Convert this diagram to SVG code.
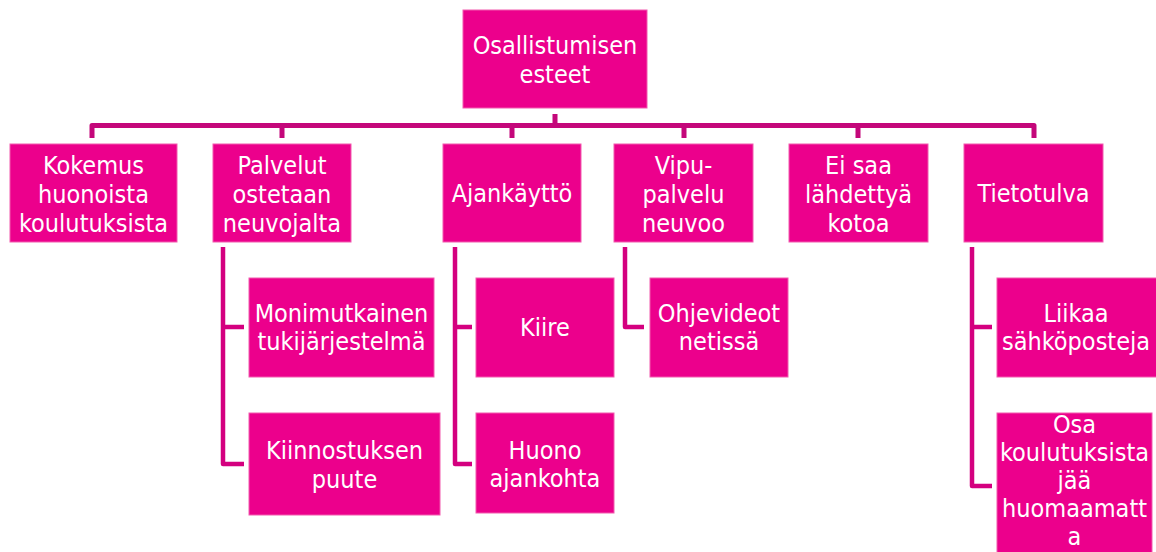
<svg xmlns="http://www.w3.org/2000/svg" width="1156" height="552" viewBox="0 0 1156 552">
<style>
.n rect{fill:#EC008C;stroke:#F25AAE;stroke-width:1}
.n text{fill:#fff;font-family:"DejaVu Sans Condensed","DejaVu Sans",sans-serif;font-size:25px;text-anchor:middle}
.bus{fill:none;stroke:#C4077A;stroke-width:5;stroke-linejoin:round}
.sub{fill:none;stroke:#D4007F;stroke-width:4.5;stroke-linejoin:round}
</style>
<rect width="1156" height="552" fill="#fff"/>
<g id="connectors">
<path class="bus" d="M555,114V125.5M92,138V125.5H1034V138M282,125.5V138M512,125.5V138M684,125.5V138M858,125.5V138"/>
<path class="sub" d="M223,247V464H244M223,327H244"/>
<path class="sub" d="M455,247V464H472M455,327H472"/>
<path class="sub" d="M625,247V327H644"/>
<path class="sub" d="M972,247V486H992M972,327H992"/>
</g>
<g id="root" class="n"><rect x="463" y="10" width="184" height="98"/><text x="555" y="54">Osallistumisen</text><text x="555" y="83">esteet</text></g>
<g id="kokemus" class="n"><rect x="10" y="144" width="167" height="98"/><text x="93.5" y="174">Kokemus</text><text x="93.5" y="203">huonoista</text><text x="93.5" y="232">koulutuksista</text></g>
<g id="palvelut" class="n"><rect x="213" y="144" width="138" height="98"/><text x="282" y="174">Palvelut</text><text x="282" y="203">ostetaan</text><text x="282" y="232">neuvojalta</text></g>
<g id="ajankaytto" class="n"><rect x="443" y="144" width="138" height="98"/><text x="512" y="202">Ajankäyttö</text></g>
<g id="vipu" class="n"><rect x="614" y="144" width="139" height="98"/><text x="683.5" y="174">Vipu-</text><text x="683.5" y="203">palvelu</text><text x="683.5" y="232">neuvoo</text></g>
<g id="eisaa" class="n"><rect x="789" y="144" width="139" height="98"/><text x="858.5" y="174">Ei saa</text><text x="858.5" y="203">lähdettyä</text><text x="858.5" y="232">kotoa</text></g>
<g id="tietotulva" class="n"><rect x="964" y="144" width="139" height="98"/><text x="1033.5" y="202">Tietotulva</text></g>
<g id="monimutkainen" class="n"><rect x="249" y="278" width="185" height="99"/><text x="341.5" y="322">Monimutkainen</text><text x="341.5" y="350">tukijärjestelmä</text></g>
<g id="kiinnostuksen" class="n"><rect x="249" y="413" width="191" height="102"/><text x="344.5" y="459">Kiinnostuksen</text><text x="344.5" y="488">puute</text></g>
<g id="kiire" class="n"><rect x="476" y="278" width="138" height="99"/><text x="545" y="336">Kiire</text></g>
<g id="huono" class="n"><rect x="476" y="413" width="138" height="100"/><text x="545" y="459">Huono</text><text x="545" y="487">ajankohta</text></g>
<g id="ohjevideot" class="n"><rect x="650" y="278" width="138" height="99"/><text x="719" y="322">Ohjevideot</text><text x="719" y="350">netissä</text></g>
<g id="liikaa" class="n"><rect x="997" y="278" width="160" height="99"/><text x="1076" y="322">Liikaa</text><text x="1076" y="350">sähköposteja</text></g>
<g id="osa" class="n"><rect x="997" y="413" width="155" height="146"/><text x="1074.5" y="433">Osa</text><text x="1074.5" y="461">koulutuksista</text><text x="1074.5" y="489">jää</text><text x="1074.5" y="517">huomaamatt</text><text x="1074.5" y="545">a</text></g>
</svg>
